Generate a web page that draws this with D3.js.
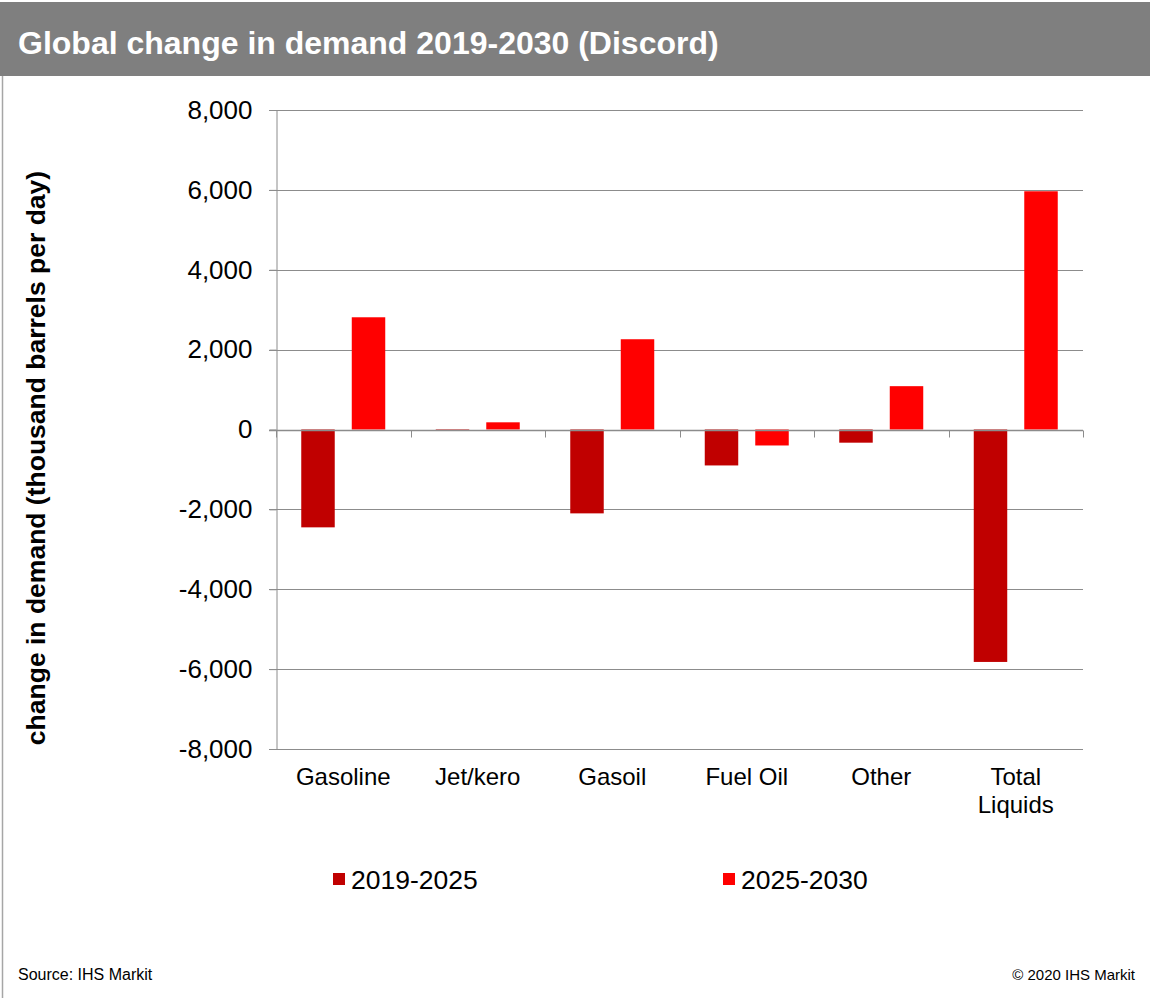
<!DOCTYPE html>
<html>
<head>
<meta charset="utf-8">
<script src="https://cdn.jsdelivr.net/npm/d3@7"></script>
<style>
  body { margin: 0; background: #fff; }
  svg { display: block; font-family: Arial, "Liberation Sans", sans-serif; }
</style>
</head>
<body>
<div id="chart"></div>
<script>
var categories = ['Gasoline', 'Jet/kero', 'Gasoil', 'Fuel Oil', 'Other', 'Total Liquids'];
var seriesNames = ['2019-2025', '2025-2030'];
var values2019_2025 = [-2450, -20, -2100, -900, -330, -5820];
var values2025_2030 = [2810, 180, 2260, -400, 1085, 5965];
var yTicks = [-8000, -6000, -4000, -2000, 0, 2000, 4000, 6000, 8000];
var colors = ['#C00000', '#FF0000'];

var width = 1150;
var height = 998;

var svg = d3.select('#chart')
    .append('svg')
    .attr('width', width)
    .attr('height', height);

// title bar + frame
svg.append('rect')
    .attr('x', 0).attr('y', 2)
    .attr('width', width).attr('height', 74)
    .attr('fill', '#7F7F7F');
svg.append('line')
    .attr('x1', 2.5).attr('x2', 2.5)
    .attr('y1', 76).attr('y2', height)
    .attr('stroke', '#A6A6A6')
    .attr('stroke-width', 1.5);
svg.append('text')
    .attr('x', 18).attr('y', 54)
    .attr('fill', '#fff')
    .attr('font-weight', 'bold')
    .attr('font-size', '32px')
    .text('Global change in demand 2019-2030 (Discord)');

var x = d3.scaleBand()
    .domain(categories)
    .range([276, 1083])
    .padding(0);
var xSub = d3.scaleBand()
    .domain(seriesNames)
    .range([0, x.bandwidth()])
    .paddingInner(0.337)
    .paddingOuter(0.5);
var y = d3.scaleLinear()
    .domain([-8000, 8000])
    .range([749, 110]);

// gridlines
svg.append('g')
    .selectAll('line')
    .data(yTicks.filter(function (d) { return d !== 0; }))
    .enter()
    .append('line')
    .attr('x1', 269).attr('x2', 1083)
    .attr('y1', function (d) { return Math.round(y(d)) + 0.5; })
    .attr('y2', function (d) { return Math.round(y(d)) + 0.5; })
    .attr('stroke', '#8C8C8C')
    .attr('stroke-width', 1);

// y axis
var fmt = d3.format(',');
var yAxis = svg.append('g')
    .attr('transform', 'translate(276.5,0)')
    .call(d3.axisLeft(y).tickValues(yTicks).tickSize(7).tickPadding(17)
        .tickFormat(function (d) { return fmt(d).replace('\u2212', '-'); }));
yAxis.select('.domain').attr('stroke', '#8C8C8C');
yAxis.selectAll('.tick line').attr('stroke', '#8C8C8C');
yAxis.selectAll('text')
    .attr('font-size', '26px')
    .attr('font-family', 'Arial, "Liberation Sans", sans-serif')
    .attr('fill', '#000');

// bars
var rows = categories.map(function (c, i) {
    return { cat: c, vals: [values2019_2025[i], values2025_2030[i]] };
});
var groups = svg.append('g')
    .selectAll('g')
    .data(rows)
    .enter()
    .append('g')
    .attr('transform', function (d) { return 'translate(' + x(d.cat) + ',0)'; });
groups.selectAll('rect')
    .data(function (d) {
        return d.vals.map(function (v, j) { return { s: seriesNames[j], v: v, j: j }; });
    })
    .enter()
    .append('rect')
    .attr('x', function (d) { return xSub(d.s); })
    .attr('width', xSub.bandwidth())
    .attr('y', function (d) { return Math.min(y(0), y(d.v)); })
    .attr('height', function (d) { return Math.max(Math.abs(y(d.v) - y(0)), 1); })
    .attr('fill', function (d) { return colors[d.j]; });

// zero axis with ticks at category boundaries
var xAxis = svg.append('g')
    .attr('transform', 'translate(0,' + (Math.round(y(0)) + 0.5) + ')');
xAxis.append('line')
    .attr('x1', 269).attr('x2', 1083)
    .attr('stroke', '#8C8C8C')
    .attr('stroke-width', 1.5);
xAxis.selectAll('.xt')
    .data(categories.concat(['end']))
    .enter()
    .append('line')
    .attr('class', 'xt')
    .attr('x1', function (d, i) { return Math.round(276 + i * x.step()) + 0.5; })
    .attr('x2', function (d, i) { return Math.round(276 + i * x.step()) + 0.5; })
    .attr('y1', 0).attr('y2', 7)
    .attr('stroke', '#8C8C8C');

// category labels
var labels = svg.append('g')
    .selectAll('text')
    .data(categories)
    .enter()
    .append('text')
    .attr('x', function (d) { return x(d) + x.bandwidth() / 2; })
    .attr('y', 785)
    .attr('text-anchor', 'middle')
    .attr('font-size', '24px')
    .attr('fill', '#000');
labels.each(function (d) {
    var parts = d === 'Total Liquids' ? ['Total', 'Liquids'] : [d];
    var t = d3.select(this);
    parts.forEach(function (p, i) {
        t.append('tspan')
            .attr('x', x(d) + x.bandwidth() / 2)
            .attr('dy', i === 0 ? 0 : 28)
            .text(p);
    });
});

// y axis title
svg.append('text')
    .attr('transform', 'translate(45,458) rotate(-90)')
    .attr('text-anchor', 'middle')
    .attr('font-weight', 'bold')
    .attr('font-size', '26.5px')
    .attr('fill', '#000')
    .text('change in demand (thousand barrels per day)');

// legend
var legendX = [333, 723];
var legend = svg.selectAll('.legend')
    .data(seriesNames)
    .enter()
    .append('g')
    .attr('class', 'legend')
    .attr('transform', function (d, i) { return 'translate(' + legendX[i] + ',873)'; });
legend.append('rect')
    .attr('width', 12)
    .attr('height', 12)
    .attr('fill', function (d, i) { return colors[i]; });
legend.append('text')
    .attr('x', 18)
    .attr('y', 16)
    .attr('font-size', '26.5px')
    .attr('fill', '#000')
    .text(function (d) { return d; });

// footer
svg.append('text')
    .attr('x', 18).attr('y', 980)
    .attr('font-size', '16px')
    .attr('fill', '#000')
    .text('Source: IHS Markit');
svg.append('text')
    .attr('x', 1135).attr('y', 980)
    .attr('text-anchor', 'end')
    .attr('font-size', '15px')
    .attr('fill', '#000')
    .text('\u00a9 2020 IHS Markit');
</script>
</body>
</html>
